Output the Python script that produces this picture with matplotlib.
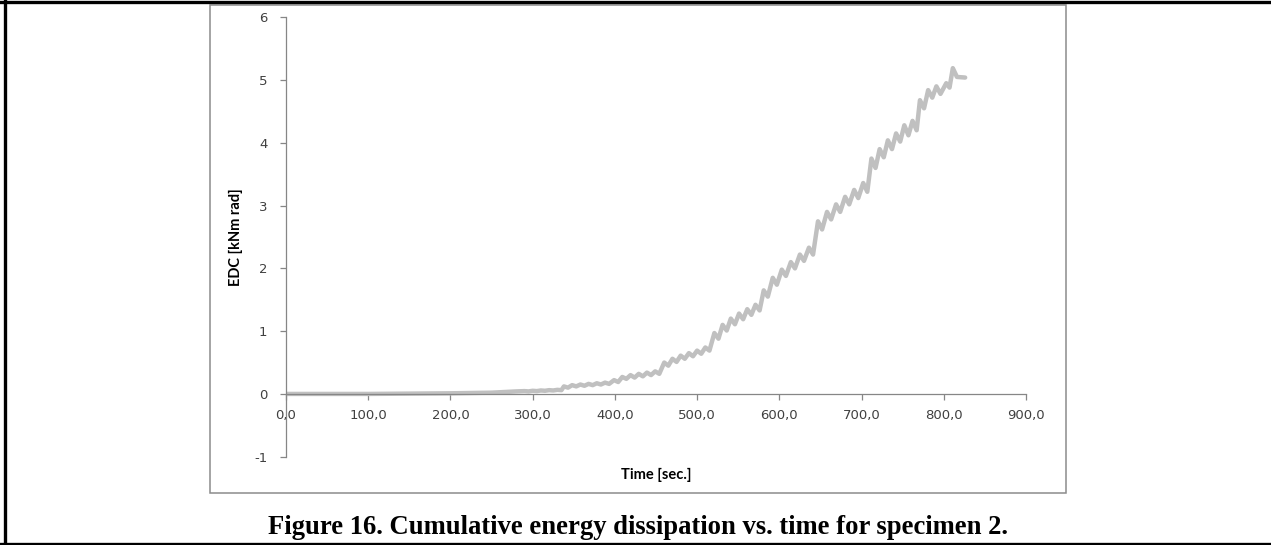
import matplotlib
matplotlib.use("Agg")
import matplotlib.pyplot as plt
from matplotlib.lines import Line2D
from matplotlib.patches import Rectangle

# Cumulative energy dissipation (EDC) against time: alternating peaks and
# troughs of the recorded trace, one bump per half cycle
time_s = [0, 100, 200, 250, 280, 290, 295, 300, 305, 310, 315, 320, 325, 330, 335,
          # amplitude step 2
          338, 343, 348, 353, 358, 363, 368, 373, 378, 383, 388, 393,
          # amplitude step 3
          399, 404, 409, 414, 419, 424, 429, 434, 439, 444, 449, 454,
          # amplitude step 4
          460, 465, 470, 475, 480, 485, 490, 495, 500, 505, 510, 515,
          # amplitude step 5
          521, 526, 531, 536, 541, 546, 551, 556, 561, 566, 571, 576,
          # amplitude step 6
          581, 586, 592, 597, 603, 608, 614, 619, 625, 630, 636, 641,
          # amplitude step 7
          647, 652, 658, 663, 669, 674, 680, 685, 691, 696, 702, 707,
          # amplitude step 8
          712, 717, 722, 727, 732, 737, 742, 747, 752, 757, 762, 767,
          # amplitude step 9 and end of test
          771, 776, 781, 786, 791, 796, 803, 807, 811, 816, 826]
edc = [0.0, 0.0, 0.01, 0.02, 0.04, 0.045, 0.04, 0.05, 0.045, 0.055, 0.05, 0.06, 0.055, 0.065, 0.06,
       0.12, 0.10, 0.14, 0.12, 0.15, 0.13, 0.16, 0.14, 0.17, 0.15, 0.18, 0.16,
       0.22, 0.19, 0.27, 0.24, 0.30, 0.26, 0.32, 0.28, 0.34, 0.30, 0.36, 0.32,
       0.50, 0.45, 0.56, 0.51, 0.61, 0.56, 0.65, 0.60, 0.69, 0.64, 0.74, 0.69,
       0.97, 0.88, 1.10, 1.01, 1.20, 1.11, 1.28, 1.19, 1.35, 1.26, 1.42, 1.33,
       1.65, 1.55, 1.85, 1.74, 1.98, 1.88, 2.10, 2.00, 2.22, 2.12, 2.33, 2.22,
       2.75, 2.62, 2.90, 2.78, 3.02, 2.90, 3.14, 3.02, 3.25, 3.12, 3.36, 3.22,
       3.75, 3.60, 3.90, 3.77, 4.04, 3.90, 4.15, 4.02, 4.28, 4.12, 4.35, 4.20,
       4.68, 4.55, 4.84, 4.72, 4.90, 4.78, 4.95, 4.88, 5.19, 5.05, 5.04]

x_ticks = [0, 100, 200, 300, 400, 500, 600, 700, 800, 900]
x_tick_labels = ["0,0", "100,0", "200,0", "300,0", "400,0", "500,0",
                 "600,0", "700,0", "800,0", "900,0"]
y_ticks = [-1, 0, 1, 2, 3, 4, 5, 6]
y_tick_labels = ["-1", "0", "1", "2", "3", "4", "5", "6"]

W, H = 1271, 545
fig = plt.figure(figsize=(W / 100, H / 100), dpi=100)

# page frame lines (top, left, bottom)
for (x0, y0, x1, y1) in [(0, 2, W, 2), (4.5, 0, 4.5, H), (0, 543.5, W, 543.5)]:
    fig.add_artist(Line2D([x0 / W, x1 / W], [1 - y0 / H, 1 - y1 / H],
                          transform=fig.transFigure, color="black", lw=2.4))

# chart area border
fig.add_artist(Rectangle((210 / W, 1 - 493 / H), (1066 - 210) / W, (493 - 4.5) / H,
                         transform=fig.transFigure, fill=False,
                         edgecolor="#8c8c8c", lw=1.1))

ax = fig.add_axes([286 / W, (H - 456.7) / H, 740 / W, 439.4 / H])
ax.plot(time_s, edc, color="#c0c0c0", lw=3.2, solid_joinstyle="round",
        solid_capstyle="round")

ax.set_xlim(0, 900)
ax.set_ylim(-1, 6)
ax.spines["top"].set_visible(False)
ax.spines["right"].set_visible(False)
ax.spines["bottom"].set_position(("data", 0))
for s in ("left", "bottom"):
    ax.spines[s].set_color("#868686")
    ax.spines[s].set_linewidth(0.9)

tick_font = dict(family="DejaVu Sans", size=9.5, color="#404040")
ax.set_xticks(x_ticks)
ax.set_xticklabels(x_tick_labels, **tick_font)
ax.set_yticks(y_ticks)
ax.set_yticklabels(y_tick_labels, **tick_font)
ax.tick_params(axis="x", direction="out", length=4, width=0.9, color="#868686", pad=7)
ax.tick_params(axis="y", direction="out", length=4.5, width=0.9, color="#868686", pad=9)

ax.set_xlabel("Time [sec.]", family="Lato", weight="bold", size=10.5, color="black")
ax.xaxis.set_label_coords(0.5, -0.026)
ax.set_ylabel("EDC [kNm rad]", family="Lato", weight="bold", size=10.5, color="black")
ax.yaxis.set_label_coords(-0.058, 0.5)

fig.text(638 / W, 1 - 527 / H,
         "Figure 16. Cumulative energy dissipation vs. time for specimen 2.",
         family="Liberation Serif", weight="bold", size=19.2, ha="center", va="center")

fig.savefig("out.png", dpi=100)
